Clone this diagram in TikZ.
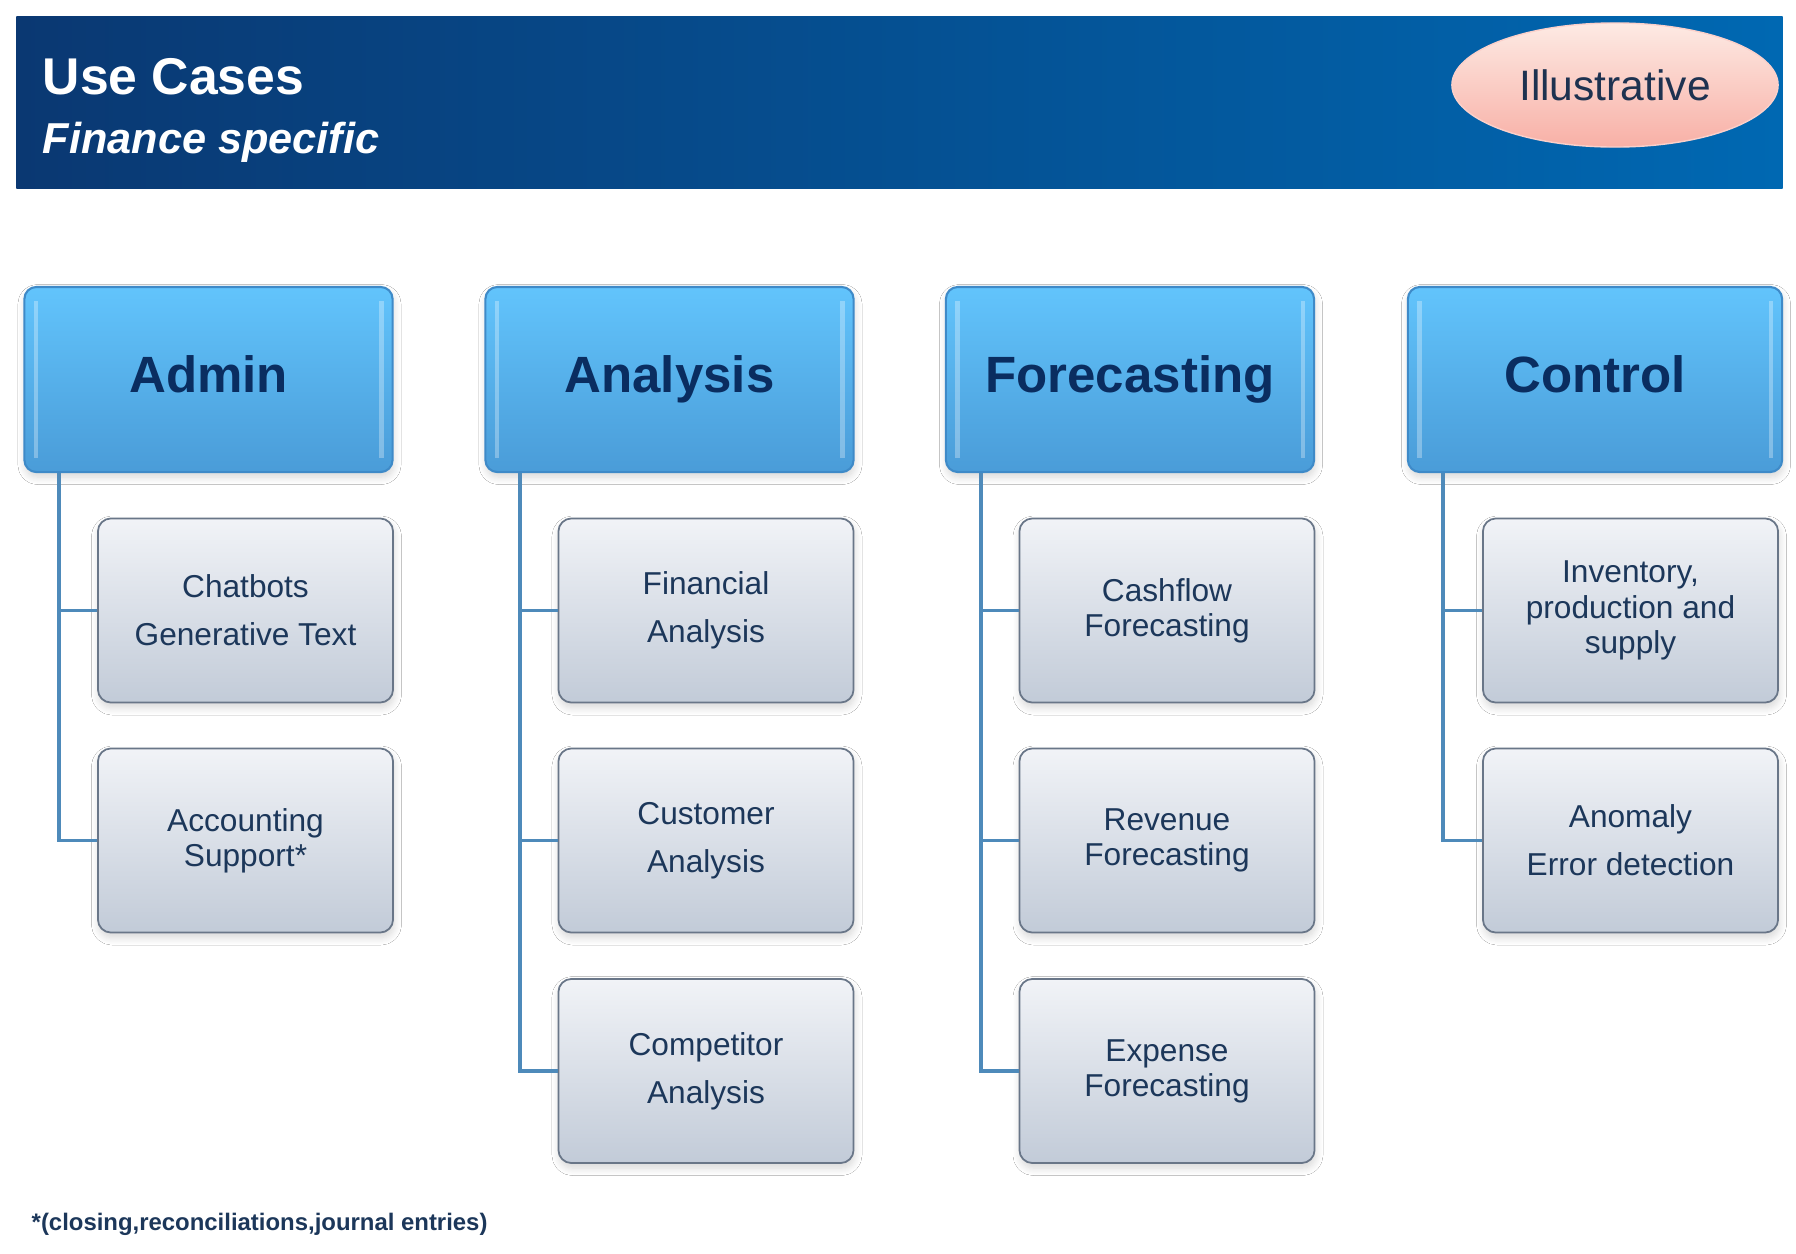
\documentclass[tikz,border=0pt]{standalone}
\usepackage{fontspec}
\setmainfont{Liberation Sans}
\usetikzlibrary{shapes.geometric, shadows.blur}

\definecolor{bannerdark}{RGB}{10,56,114}
\definecolor{bannerlight}{RGB}{0,104,178}
\definecolor{headtop}{RGB}{98,196,252}
\definecolor{headbottom}{RGB}{74,156,216}
\definecolor{headedge}{RGB}{62,138,200}
\definecolor{headtext}{RGB}{10,45,96}
\definecolor{subtop}{RGB}{241,243,247}
\definecolor{subbottom}{RGB}{194,203,216}
\definecolor{subedge}{RGB}{105,118,136}
\definecolor{subtext}{RGB}{28,55,90}
\definecolor{branchblue}{RGB}{78,138,186}
\definecolor{pinktop}{RGB}{253,234,228}
\definecolor{pinkbottom}{RGB}{248,176,166}
\definecolor{stamptext}{RGB}{30,50,80}

\tikzset{
  banner/.style={rectangle, inner sep=0pt, minimum width=17.65cm, minimum height=1.71cm,
    left color=bannerdark, right color=bannerlight},
  titletext/.style={anchor=base west, inner sep=0pt, text=white},
  stamp/.style={ellipse, minimum width=3.26cm, minimum height=1.24cm,
    top color=pinktop, bottom color=pinkbottom, draw=pinkbottom!60!white, line width=0.4pt,
    text=stamptext, font=\fontsize{12.1}{14}\selectfont},
  headbox/.style={rectangle, rounded corners=1.2mm, minimum width=3.68cm, minimum height=1.85cm,
    top color=headtop, bottom color=headbottom, draw=headedge, line width=0.6pt,
    text=headtext, font=\fontsize{14.5}{17}\selectfont\bfseries,
    text height=0.95em, text depth=0.2em,
    blur shadow={shadow xshift=0.1mm, shadow yshift=-0.5mm, shadow blur steps=8, shadow opacity=16},
    path picture={
      \draw[white, opacity=0.3, line width=1.2pt]
        ([xshift=1.15mm, yshift=-1.4mm]path picture bounding box.north west) --
        ([xshift=1.15mm, yshift=1.4mm]path picture bounding box.south west);
      \draw[white, opacity=0.3, line width=1.2pt]
        ([xshift=-1.1mm, yshift=-1.4mm]path picture bounding box.north east) --
        ([xshift=-1.1mm, yshift=1.4mm]path picture bounding box.south east);
    }},
  subbox/.style={rectangle, rounded corners=1.3mm, minimum width=2.95cm, minimum height=1.84cm,
    top color=subtop, bottom color=subbottom, draw=subedge, line width=0.5pt,
    text=subtext, align=center, font=\fontsize{9}{13.7}\selectfont,
    blur shadow={shadow xshift=0.1mm, shadow yshift=-0.5mm, shadow blur steps=8, shadow opacity=16}},
  subboxtight/.style={subbox, font=\fontsize{9}{10}\selectfont},
  branch/.style={draw=branchblue, line width=1.1pt},
  notetext/.style={anchor=base west, inner sep=0pt, text=subtext,
    font=\fontsize{6.8}{8}\selectfont\bfseries}
}

\begin{document}
\begin{tikzpicture}[x=0.01cm, y=-0.01cm]
  \useasboundingbox[fill=white] (0,0) rectangle (1796,1254);

  % banner
  \node[banner] (banner) at (899.5,102.5) {};
  \node[titletext, font=\fontsize{14.7}{17}\selectfont\bfseries] (title) at (42,94) {Use Cases};
  \node[titletext, font=\fontsize{12.3}{15}\selectfont\bfseries\itshape] (subtitle) at (42,153) {Finance specific};
  \node[stamp] (stamp) at (1615,85) {Illustrative};

  % columns
  \node[headbox] (admin) at (208.5,379.5) {Admin};
  \node[headbox] (analysis) at (669.5,379.5) {Analysis};
  \node[headbox] (forecast) at (1130,379.5) {Forecasting};
  \node[headbox, minimum width=3.74cm] (control) at (1595,379.5) {Control};

  \node[subbox] (chat) at (245.5,610.5) {Chatbots\\Generative Text};
  \node[subboxtight] (account) at (245.5,840.5) {Accounting\\Support*};

  \node[subbox] (finan) at (706,610.5) {Financial\\Analysis};
  \node[subbox] (cust) at (706,840.5) {Customer\\Analysis};
  \node[subbox] (comp) at (706,1071) {Competitor\\Analysis};

  \node[subboxtight] (cash) at (1167,610.5) {Cashflow\\Forecasting};
  \node[subboxtight] (rev) at (1167,840.5) {Revenue\\Forecasting};
  \node[subboxtight] (expense) at (1167,1071) {Expense\\Forecasting};

  \node[subboxtight] (invent) at (1630.5,610.5) {Inventory,\\production and\\supply};
  \node[subbox] (anomaly) at (1630.5,840.5) {Anomaly\\Error detection};

  % branches
  \foreach \head/\leaf in {admin/chat, admin/account, analysis/finan, analysis/cust, analysis/comp,
      forecast/cash, forecast/rev, forecast/expense, control/invent, control/anomaly}
    \draw[branch] ([xshift=3.6mm]\head.south west) |- (\leaf.west);

  \node[notetext] (note) at (31,1230) {*(closing,reconciliations,journal entries)};
\end{tikzpicture}
\end{document}
